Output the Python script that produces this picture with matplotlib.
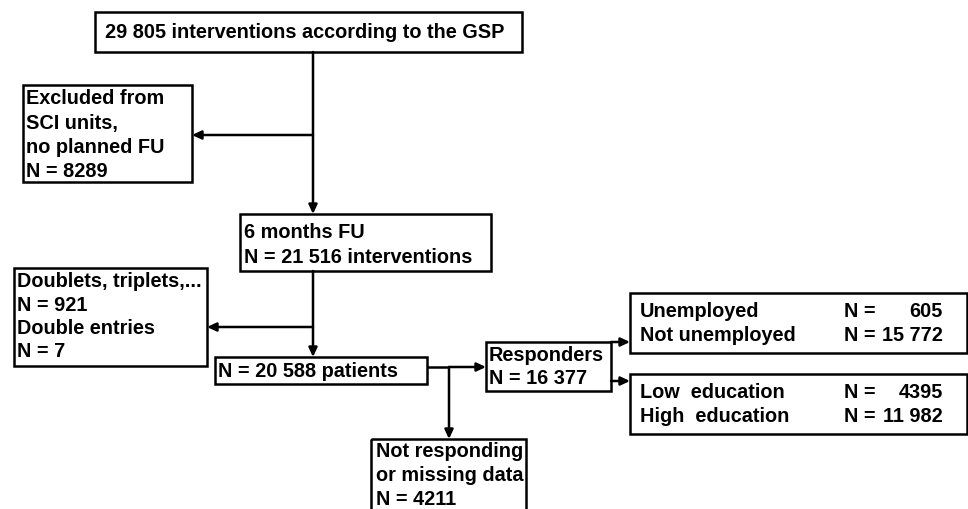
"""
Flow chart of the study sample: interventions -> follow-up -> responders.
Drawn on one axes in pixel-like units (0..968 x 0..510, y downwards).
"""

import matplotlib
matplotlib.use("Agg")
import matplotlib.pyplot as plt
from matplotlib.patches import Rectangle

# --- Data (counts shown in the chart) ---
total_interventions = 29805
excluded_no_fu = 8289
fu_interventions = 21516
doublets = 921
double_entries = 7
patients = 20588
responders = 16377
not_responding = 4211
employment_labels = ["Unemployed", "Not unemployed"]
employment_counts = [605, 15772]
education_labels = ["Low  education", "High  education"]
education_counts = [4395, 11982]


def fmt(n):
    """Space as thousands separator, only for 5+ digit numbers (as in the figure)."""
    return f"{n:,}".replace(",", " ") if n >= 10000 else str(n)


# --- Style ---
plt.rcParams["font.family"] = ["Liberation Sans", "DejaVu Sans"]
FS = 14.3
LW = 1.8
LINE_H = 24.3

fig = plt.figure(figsize=(9.68, 5.10), dpi=100)
ax = fig.add_axes([0, 0, 1, 1])
ax.set_xlim(0, 968)
ax.set_ylim(510, 0)
ax.axis("off")


def box(x0, y0, x1, y1):
    ax.add_patch(Rectangle((x0, y0), x1 - x0, y1 - y0, fill=False,
                           edgecolor="black", linewidth=LW, clip_on=False))


def lines(x, y_first, texts, step=LINE_H):
    for i, t in enumerate(texts):
        ax.text(x, y_first + i * step, t, fontsize=FS, fontweight="bold",
                ha="left", va="center")


def seg(x0, y0, x1, y1):
    ax.plot([x0, x1], [y0, y1], color="black", lw=LW, solid_capstyle="butt")


def arrow(x0, y0, x1, y1):
    ax.annotate("", xy=(x1, y1), xytext=(x0, y0),
                arrowprops=dict(arrowstyle="-|>,head_length=0.6,head_width=0.28",
                                color="black", lw=LW, shrinkA=0, shrinkB=0,
                                mutation_scale=9))


# --- Top box ---
box(95, 13, 522, 53)
lines(105, 33, [f"{fmt(total_interventions)} interventions according to the GSP"])

# main trunk down to 6 months FU, branch to excluded
arrow(313, 53, 313, 215)
arrow(313, 136, 192, 136)
box(23, 86, 192, 183)
lines(26, 99, ["Excluded from", "SCI units,", "no planned FU",
               f"N = {fmt(excluded_no_fu)}"])

# --- 6 months FU ---
box(240, 215, 491, 272)
lines(244, 233, ["6 months FU", f"N = {fmt(fu_interventions)} interventions"],
      step=25)

arrow(313, 272, 313, 358)
arrow(313, 328, 207, 328)
box(14, 269, 207, 367)
lines(17, 282, ["Doublets, triplets,...", f"N = {fmt(doublets)}",
                "Double entries", f"N = {fmt(double_entries)}"], step=23.3)

# --- Patients ---
box(215, 358, 427, 385)
lines(218, 372, [f"N = {fmt(patients)} patients"])

seg(427, 368, 449, 368)
arrow(449, 368, 486, 368)
arrow(449, 368, 449, 440)

# --- Not responding ---
box(371, 440, 526, 530)
lines(376, 452, ["Not responding", "or missing data", f"N = {fmt(not_responding)}"],
      step=24)

# --- Responders ---
box(486, 343, 611, 392)
lines(489, 356, ["Responders", f"N = {fmt(responders)}"], step=23)

arrow(611, 343, 630, 343)
arrow(611, 382, 630, 382)

# --- Employment / education boxes ---
box(630, 294, 967, 354)
box(630, 375, 967, 435)
for y0, labels, counts in [(312, employment_labels, employment_counts),
                           (393, education_labels, education_counts)]:
    for i, (lab, n) in enumerate(zip(labels, counts)):
        y = y0 + i * 23.5
        ax.text(640, y, lab, fontsize=FS, fontweight="bold", va="center")
        ax.text(844, y, "N =", fontsize=FS, fontweight="bold", va="center")
        ax.text(943, y, fmt(n), fontsize=FS, fontweight="bold", va="center",
                ha="right")

fig.savefig("out.png", dpi=100)
